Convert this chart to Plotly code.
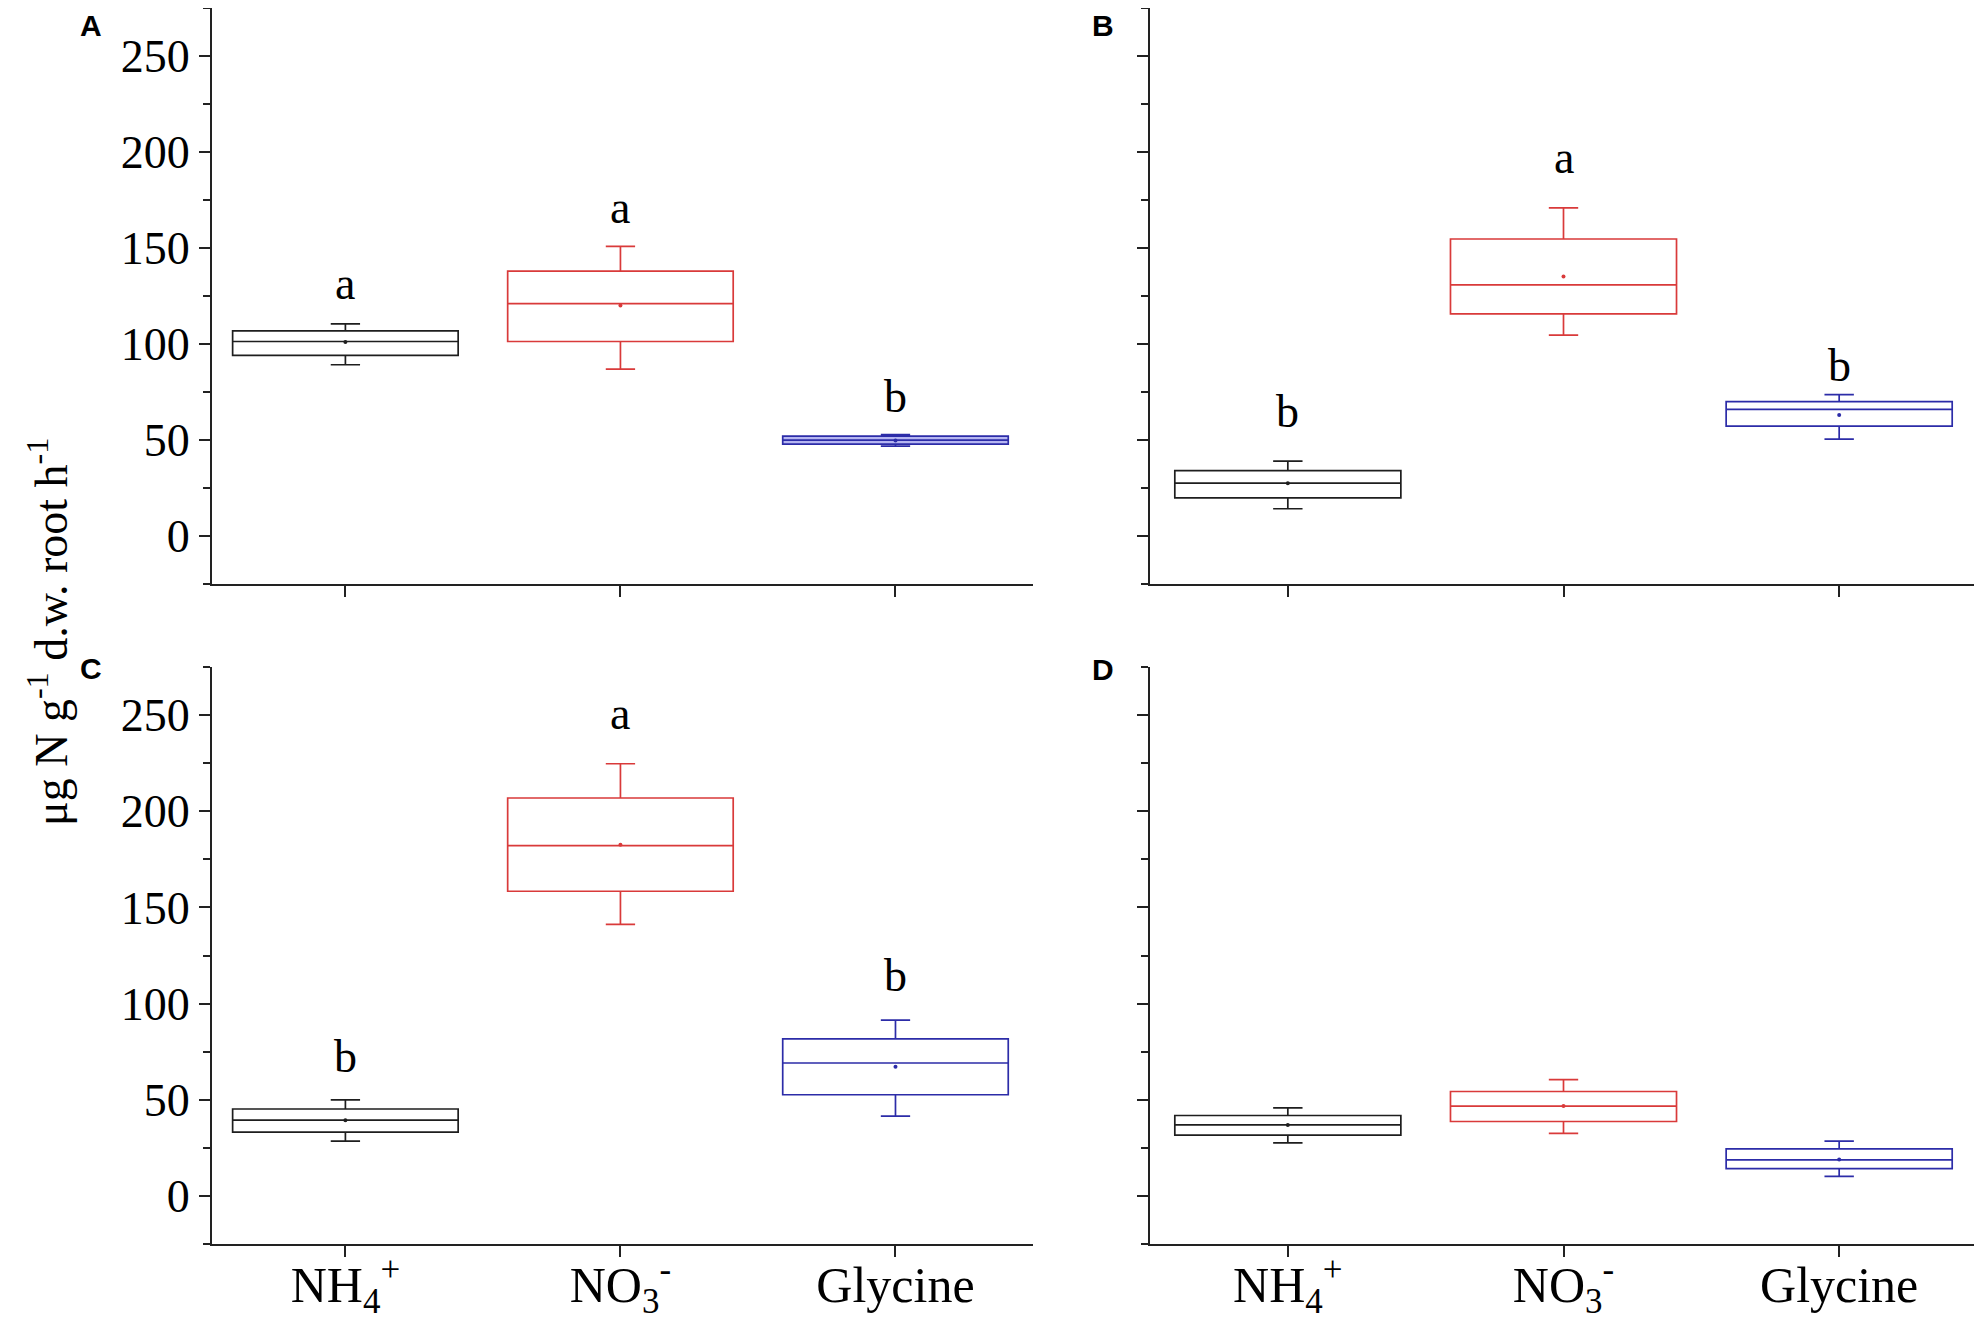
import plotly.graph_objects as go

# categories (x axis) and panel settings
categories = ["NH<sub>4</sub><sup>+</sup>", "NO<sub>3</sub><sup>-</sup>", "Glycine"]
colors = ["#1e1e1e", "#d93a3a", "#2c2ca8"]
panels = ["A", "B", "C", "D"]

# box statistics, per panel: [NH4+, NO3-, Glycine]
upper = {"A": [110.5, 150.8, 52.8], "B": [39.0, 170.9, 73.6],
         "C": [49.9, 224.7, 91.4], "D": [45.8, 60.5, 28.5]}
q3 = {"A": [106.8, 138.0, 52.0], "B": [34.1, 154.7, 70.0],
      "C": [45.2, 206.9, 81.6], "D": [41.8, 54.3, 24.5]}
median = {"A": [101.3, 121.0, 49.9], "B": [27.5, 130.8, 66.0],
          "C": [39.4, 182.1, 69.1], "D": [36.9, 46.7, 18.7]}
q1 = {"A": [94.1, 101.3, 47.9], "B": [19.9, 115.7, 57.2],
      "C": [33.2, 158.4, 52.6], "D": [31.6, 38.7, 14.2]}
lower = {"A": [89.2, 86.9, 46.8], "B": [14.2, 104.6, 50.5],
         "C": [28.5, 141.2, 41.5], "D": [27.6, 32.5, 10.2]}
mean = {"A": [101.0, 120.0, 49.8], "B": [27.5, 135.2, 63.0],
        "C": [39.4, 182.6, 67.2], "D": [36.9, 46.7, 18.9]}

# significance letters and their heights
letters = {"A": ["a", "a", "b"], "B": ["b", "a", "b"], "C": ["b", "a", "b"], "D": []}
letter_y = {"A": [131.5, 171.0, 72.5], "B": [65.0, 197.0, 89.0],
            "C": [72.5, 251.0, 114.5], "D": []}

y_ticks = [0, 50, 100, 150, 200, 250]

serif = "Liberation Serif"
W, H, OFF = 1982, 1341, 8  # page body offsets the figure by 8 px

fig = go.Figure()

axis_ids = {"A": ("x", "y"), "B": ("x2", "y2"), "C": ("x3", "y3"), "D": ("x4", "y4")}

for p in panels:
    xa, ya = axis_ids[p]
    for i, cat in enumerate(categories):
        fill = "rgba(90,90,225,0.45)" if (p == "A" and i == 2) else "rgba(255,255,255,0)"
        fig.add_trace(go.Box(
            x=[cat], q1=[q1[p][i]], median=[median[p][i]], q3=[q3[p][i]],
            lowerfence=[lower[p][i]], upperfence=[upper[p][i]],
            width=0.82, whiskerwidth=0.13,
            line=dict(color=colors[i], width=1.7),
            fillcolor=fill, showlegend=False, hoverinfo="skip",
            xaxis=xa, yaxis=ya
        ))
    fig.add_trace(go.Scatter(
        x=categories, y=mean[p], mode="markers",
        marker=dict(size=4, color=colors),
        showlegend=False, hoverinfo="skip", xaxis=xa, yaxis=ya
    ))
    for i, t in enumerate(letters[p]):
        fig.add_annotation(
            x=categories[i], y=letter_y[p][i], text=t, showarrow=False,
            xref=xa, yref=ya, yanchor="middle",
            font=dict(family=serif, size=46, color="black")
        )


def fx(px):
    return (px - OFF) / W


def fy(py):
    return min(1.0, 1 - (py - OFF) / H)


x_domains = {"A": [fx(212), fx(1033)], "B": [fx(1150), fx(1977)],
             "C": [fx(212), fx(1033)], "D": [fx(1150), fx(1977)]}
y_domains = {"A": [fy(584), fy(6)], "B": [fy(584), fy(6)],
             "C": [fy(1244), fy(667)], "D": [fy(1244), fy(667)]}
x_ranges = {"A": [-0.485, 2.5], "B": [-0.5, 2.5], "C": [-0.485, 2.5], "D": [-0.5, 2.5]}

layout_axes = {}
for k, p in enumerate(panels):
    sfx = "" if k == 0 else str(k + 1)
    layout_axes["xaxis" + sfx] = dict(
        domain=x_domains[p], anchor="y" + sfx, type="category",
        categoryorder="array", categoryarray=categories,
        range=x_ranges[p], showline=True, linecolor="#222", linewidth=2,
        ticks="outside", ticklen=11, tickwidth=2, tickcolor="#222",
        showgrid=False, zeroline=False,
        showticklabels=p in ("C", "D"), ticklabelstandoff=-15,
        tickfont=dict(family=serif, size=50, color="black"),
    )
    layout_axes["yaxis" + sfx] = dict(
        domain=y_domains[p], anchor="x" + sfx,
        range=[-25, 275], tickmode="array", tickvals=y_ticks,
        showline=True, linecolor="#222", linewidth=2,
        ticks="outside", ticklen=11, tickwidth=2, tickcolor="#222",
        minor=dict(dtick=25, tick0=0, ticks="outside", ticklen=7,
                   tickwidth=2, tickcolor="#222"),
        showgrid=False, zeroline=False,
        showticklabels=p in ("A", "C"),
        tickfont=dict(family=serif, size=46, color="black"),
    )

fig.update_layout(
    width=W, height=H,
    margin=dict(l=0, r=0, t=0, b=0),
    plot_bgcolor="white", paper_bgcolor="white",
    boxmode="overlay",
    **layout_axes
)

# panel labels (top edge of the label box)
label_pos = {"A": (91, 8), "B": (1103, 8), "C": (91, 651), "D": (1103, 652)}
for p, (px_x, px_y) in label_pos.items():
    fig.add_annotation(
        x=fx(px_x), y=fy(px_y), xref="paper", yref="paper",
        text="<b>" + p + "</b>", showarrow=False, borderpad=0,
        xanchor="center", yanchor="top",
        font=dict(family="Liberation Sans", size=30, color="black")
    )

# shared y-axis title
fig.add_annotation(
    x=fx(48), y=fy(632), xref="paper", yref="paper",
    text="μg N g<sup>-1</sup> d.w. root h<sup>-1</sup>", textangle=-90,
    showarrow=False, xanchor="center", yanchor="middle",
    font=dict(family=serif, size=46, color="black")
)

fig.write_html("out.html")
